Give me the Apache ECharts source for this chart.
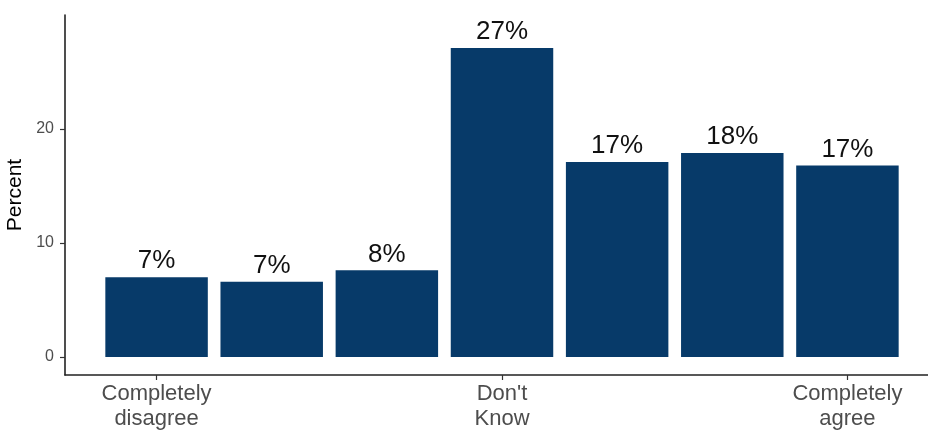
<!DOCTYPE html>
<html>
<head>
<meta charset="utf-8">
<script src="https://cdn.jsdelivr.net/npm/echarts@6/dist/echarts.min.js"></script>
<style>html,body{margin:0;padding:0;background:#fff;}#c{width:928px;height:431px;}</style>
</head>
<body>
<div id="c"></div>
<script>
const categories = ["Completely\ndisagree", "2", "3", "Don't\nKnow", "5", "6", "Completely\nagree"];
const shownLabels = [true, false, false, true, false, false, true];
const values = [7.0, 6.6, 7.6, 27.1, 17.1, 17.9, 16.8];
const valueLabels = ["7%", "7%", "8%", "27%", "17%", "18%", "17%"];
const yTicks = [0, 10, 20];

const chart = echarts.init(document.getElementById('c'), null, {renderer: 'canvas'});
const font = 'Arial, "Liberation Sans", Helvetica, sans-serif';
chart.setOption({
  animation: false,
  backgroundColor: '#ffffff',
  grid: [
    {left: 99, right: 23, top: 15, bottom: 56, containLabel: false, outerBoundsMode: 'none'},
    {left: 65, right: 0, top: 15, bottom: 56, containLabel: false, outerBoundsMode: 'none'}
  ],
  xAxis: [
    {
      type: 'category', gridIndex: 0, data: categories,
      axisLine: {show: false, onZero: false},
      axisTick: {show: true, alignWithLabel: true, length: 5, lineStyle: {color: '#333', width: 1.2},
        interval: function (i) { return shownLabels[i]; }},
      axisLabel: {
        interval: function (i) { return shownLabels[i]; },
        color: '#4d4d4d', fontSize: 22, lineHeight: 25, margin: 6, fontFamily: font
      }
    },
    {
      type: 'value', gridIndex: 1, min: 0, max: 1,
      axisLine: {show: true, onZero: false, lineStyle: {color: '#222', width: 1.6}},
      axisTick: {show: false}, axisLabel: {show: false}, splitLine: {show: false}
    }
  ],
  yAxis: [
    {
      type: 'value', gridIndex: 0, min: -1.58, max: 30.0, offset: 34,
      name: 'Percent', nameLocation: 'middle', nameGap: 4, nameRotate: 90,
      nameTextStyle: {color: '#000', fontSize: 21, fontFamily: font},
      axisLine: {show: true, lineStyle: {color: '#222', width: 1.6}},
      axisTick: {show: true, length: 5, customValues: yTicks, lineStyle: {color: '#333', width: 1.2}},
      axisLabel: {customValues: yTicks, color: '#4d4d4d', fontSize: 16, margin: 11, fontFamily: font},
      splitLine: {show: false}
    },
    {
      type: 'value', gridIndex: 1, min: 0, max: 1, show: false
    }
  ],
  series: [{
    type: 'bar', xAxisIndex: 0, yAxisIndex: 0,
    data: values,
    barCategoryGap: '11%',
    itemStyle: {color: '#073A69'},
    label: {
      show: true, position: 'top', distance: 3,
      formatter: function (p) { return valueLabels[p.dataIndex]; },
      color: '#111', fontSize: 26, fontFamily: font
    }
  }]
});
</script>
</body>
</html>
